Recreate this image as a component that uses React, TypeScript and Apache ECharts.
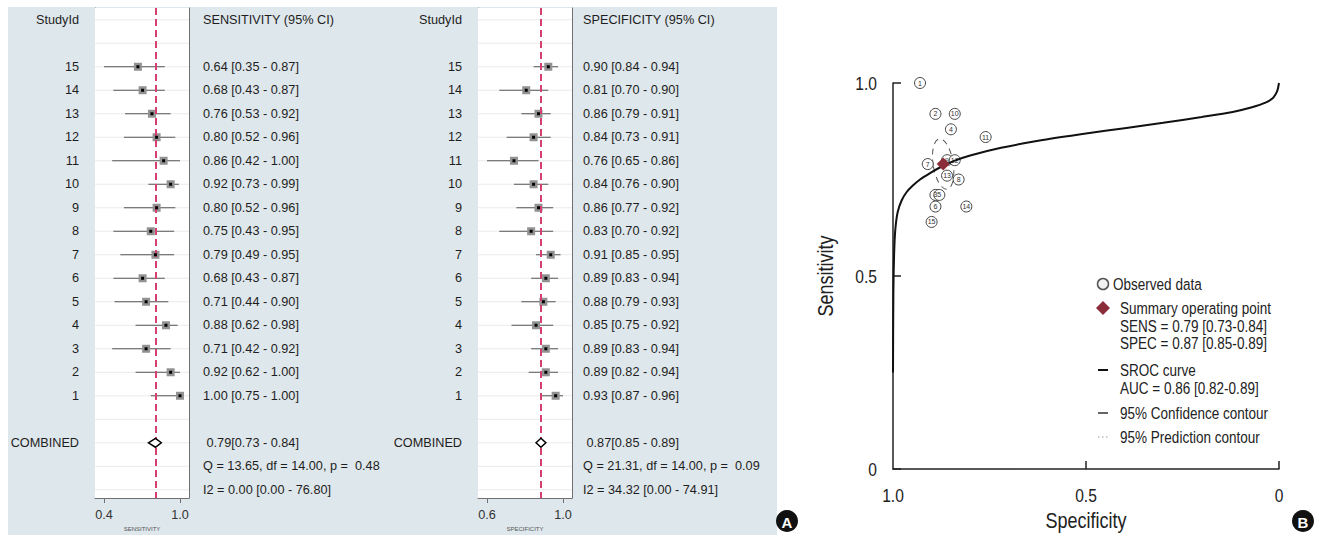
import React, { useEffect, useRef } from 'react';
import * as echarts from 'echarts';

// ---------------- data ----------------
const STUDY_IDS = [1, 2, 3, 4, 5, 6, 7, 8, 9, 10, 11, 12, 13, 14, 15];
const SENS = [1.0, 0.92, 0.71, 0.88, 0.71, 0.68, 0.79, 0.75, 0.8, 0.92, 0.86, 0.8, 0.76, 0.68, 0.64];
const SENS_LO = [0.75, 0.62, 0.42, 0.62, 0.44, 0.43, 0.49, 0.43, 0.52, 0.73, 0.42, 0.52, 0.53, 0.43, 0.35];
const SENS_HI = [1.0, 1.0, 0.92, 0.98, 0.9, 0.87, 0.95, 0.95, 0.96, 0.99, 1.0, 0.96, 0.92, 0.87, 0.87];
const SPEC = [0.93, 0.89, 0.89, 0.85, 0.88, 0.89, 0.91, 0.83, 0.86, 0.84, 0.76, 0.84, 0.86, 0.81, 0.9];
const SPEC_LO = [0.87, 0.82, 0.83, 0.75, 0.79, 0.83, 0.85, 0.7, 0.77, 0.76, 0.65, 0.73, 0.79, 0.7, 0.84];
const SPEC_HI = [0.96, 0.94, 0.94, 0.92, 0.93, 0.94, 0.95, 0.92, 0.92, 0.9, 0.86, 0.91, 0.91, 0.9, 0.94];

const SENS_POOLED = [0.79, 0.73, 0.84];
const SPEC_POOLED = [0.87, 0.85, 0.89];
const SENS_HET = [13.65, 14.0, 0.48, 0.0, 0.0, 76.8]; // Q, df, p, I2, lo, hi
const SPEC_HET = [21.31, 14.0, 0.09, 34.32, 0.0, 74.91];
const AUC = [0.86, 0.82, 0.89];

const SENS_TICKS = [0.35, 1.0];
const SENS_TICK_LABELS = ['0.4', '1.0'];
const SPEC_TICKS = [0.65, 0.96];
const SPEC_TICK_LABELS = ['0.6', '1.0'];

const ROC_TICKS = [0, 0.5, 1];
const ROC_TICK_LABELS = ['0', '0.5', '1.0'];

// SROC curve: [specificity, sensitivity]
const SROC_SPEC = [1.0, 0.999, 0.997, 0.994, 0.988, 0.978, 0.965, 0.95, 0.93, 0.905, 0.875, 0.845, 0.8, 0.72, 0.62, 0.5, 0.4, 0.3, 0.2, 0.12, 0.07, 0.035, 0.015, 0.005, 0.0];
const SROC_SENS = [0.25, 0.46, 0.56, 0.62, 0.665, 0.695, 0.717, 0.733, 0.75, 0.766, 0.783, 0.797, 0.812, 0.832, 0.851, 0.869, 0.883, 0.897, 0.912, 0.925, 0.937, 0.949, 0.962, 0.978, 1.0];

// 95% confidence contour (semi-axes in data units, tilt in degrees)
const CONF_CONTOUR = [0.026, 0.066, 9];

// ---------------- styling ----------------
const FONT = '"Liberation Sans", Arial, Helvetica, sans-serif';
const NARROW_SCALE = 0.82; // emulate a narrow face
const BG = '#dee7eb';
const TXT = '#1e1e1e';
const RED = '#d6406f';
const MAROON = '#8b2c3b';
const FOREST_FS = 12.7;

const NROWS = 21;
const rowOfStudy = (id: number) => 2 + (15 - id);
const f2 = (v: number) => v.toFixed(2);

function buildRows(header: string, v: number[], lo: number[], hi: number[], pooled: number[], het: number[]) {
  const left: string[] = new Array(NROWS).fill('');
  const right: string[] = new Array(NROWS).fill('');
  left[0] = 'StudyId';
  right[0] = header;
  STUDY_IDS.forEach((id, i) => {
    left[rowOfStudy(id)] = String(id);
    right[rowOfStudy(id)] = `${f2(v[i])} [${f2(lo[i])} - ${f2(hi[i])}]`;
  });
  left[18] = 'COMBINED';
  right[18] = ` ${f2(pooled[0])}[${f2(pooled[1])} - ${f2(pooled[2])}]`;
  right[19] = `Q = ${f2(het[0])}, df = ${f2(het[1])}, p =  ${f2(het[2])}`;
  right[20] = `I2 = ${f2(het[3])} [${f2(het[4])} - ${f2(het[5])}]`;
  return { left, right };
}

function forestPanel(
  g: number,
  grid: { left: number; width: number; rightMargin: number },
  xmin: number,
  xmax: number,
  ticks: number[],
  tickLabels: string[],
  axisName: string,
  header: string,
  v: number[],
  lo: number[],
  hi: number[],
  pooled: number[],
  het: number[]
) {
  const { left, right } = buildRows(header, v, lo, hi, pooled, het);
  const rowIdx = Array.from({ length: NROWS }, (_, i) => i);
  const yCommon = {
    type: 'value',
    gridIndex: g,
    inverse: true,
    min: -0.5,
    max: 20.35,
    axisLine: { show: true, onZero: false, lineStyle: { color: '#707070', width: 1 } },
    axisTick: { show: false },
    splitLine: { show: false },
  };
  const yAxes = [
    {
      ...yCommon,
      position: 'left',
      axisLabel: {
        customValues: rowIdx,
        formatter: (val: number) => left[Math.round(val)] ?? '',
        fontSize: FOREST_FS,
        fontFamily: FONT,
        color: TXT,
        margin: 16,
      },
    },
    {
      ...yCommon,
      position: 'right',
      axisLabel: {
        customValues: rowIdx,
        formatter: (val: number) => right[Math.round(val)] ?? '',
        fontSize: FOREST_FS,
        fontFamily: FONT,
        color: TXT,
        margin: grid.rightMargin,
        align: 'left',
      },
    },
  ];
  const xAxis = {
    type: 'value',
    gridIndex: g,
    min: xmin,
    max: xmax,
    axisLine: { show: true, onZero: false, lineStyle: { color: '#707070', width: 1 } },
    axisTick: { show: true, customValues: ticks, length: 5, lineStyle: { color: '#707070' } },
    axisLabel: {
      customValues: ticks,
      formatter: (val: number) => {
        const i = ticks.findIndex((t) => Math.abs(t - val) < 1e-9);
        return i >= 0 ? tickLabels[i] : '';
      },
      fontSize: FOREST_FS,
      fontFamily: FONT,
      color: '#333',
      margin: 10,
    },
    splitLine: { show: false },
    name: axisName,
    nameLocation: 'middle',
    nameGap: 24,
    nameTextStyle: { fontSize: 6, fontFamily: FONT, color: '#555' },
  };
  const gridOpt = {
    left: grid.left,
    top: 8,
    width: grid.width,
    height: 490,
    show: true,
    backgroundColor: '#ffffff',
    borderWidth: 0,
    z: 2,
  };
  const base = { xAxisIndex: g, yAxisIndex: 2 * g, silent: true };
  const series: any[] = [
    {
      ...base,
      type: 'custom',
      z: 2,
      data: rowIdx.map((r) => [xmin, r, xmax]),
      encode: { x: [0, 2], y: 1 },
      renderItem: (_p: any, api: any) => {
        const a = api.coord([api.value(0), api.value(1)]);
        const b = api.coord([api.value(2), api.value(1)]);
        return {
          type: 'line',
          shape: { x1: a[0], y1: a[1], x2: b[0], y2: b[1] },
          style: { stroke: '#ebebeb', lineWidth: 1 },
        };
      },
      markLine: {
        silent: true,
        symbol: ['none', 'none'],
        label: { show: false },
        lineStyle: { color: RED, type: [7, 4], width: 2 },
        data: [{ xAxis: pooled[0] }],
      },
    },
    {
      ...base,
      type: 'custom',
      z: 3,
      data: STUDY_IDS.map((id, i) => [lo[i], hi[i], rowOfStudy(id)]),
      encode: { x: [0, 1], y: 2 },
      renderItem: (_p: any, api: any) => {
        const a = api.coord([api.value(0), api.value(2)]);
        const b = api.coord([api.value(1), api.value(2)]);
        return {
          type: 'line',
          shape: { x1: a[0], y1: a[1], x2: b[0], y2: b[1] },
          style: { stroke: '#555', lineWidth: 1 },
        };
      },
    },
    {
      ...base,
      type: 'scatter',
      z: 4,
      symbol: 'rect',
      symbolSize: 8,
      itemStyle: { color: '#929292', opacity: 1 },
      data: STUDY_IDS.map((id, i) => [v[i], rowOfStudy(id)]),
    },
    {
      ...base,
      type: 'scatter',
      z: 5,
      symbol: 'rect',
      symbolSize: 3,
      itemStyle: { color: '#000', opacity: 1 },
      data: STUDY_IDS.map((id, i) => [v[i], rowOfStudy(id)]),
    },
    {
      ...base,
      type: 'custom',
      z: 5,
      data: [[pooled[0], pooled[1], pooled[2], 18]],
      encode: { x: [0, 1, 2], y: 3 },
      renderItem: (_p: any, api: any) => {
        const c = api.coord([api.value(0), api.value(3)]);
        const l = api.coord([api.value(1), api.value(3)]);
        const r = api.coord([api.value(2), api.value(3)]);
        const h = api.size([0, 0.19])[1];
        return {
          type: 'polygon',
          shape: { points: [[l[0], c[1]], [c[0], c[1] - h], [r[0], c[1]], [c[0], c[1] + h]] },
          style: { fill: '#fff', stroke: '#000', lineWidth: 1.5 },
        };
      },
    },
  ];
  return { grid: gridOpt, xAxis, yAxes, series };
}

const narrowText = (text: string, x: number, y: number, size: number, align: string, extra: any = {}) => ({
  type: 'text',
  x,
  y,
  scaleX: NARROW_SCALE,
  ...extra,
  style: { text, fontSize: size, fontFamily: FONT, fill: '#222', verticalAlign: 'middle', align },
});

export default function App() {
  const ref = useRef<HTMLDivElement>(null);
  useEffect(() => {
    if (!ref.current) return;
    const chart = echarts.init(ref.current, undefined, { renderer: 'svg' });

    const pA = forestPanel(0, { left: 95, width: 94, rightMargin: 14 }, 0.273, 1.077, SENS_TICKS, SENS_TICK_LABELS,
      'SENSITIVITY', 'SENSITIVITY (95% CI)', SENS, SENS_LO, SENS_HI, SENS_POOLED, SENS_HET);
    const pB = forestPanel(1, { left: 478, width: 94, rightMargin: 11 }, 0.6133, 0.9967, SPEC_TICKS, SPEC_TICK_LABELS,
      'SPECIFICITY', 'SPECIFICITY (95% CI)', SPEC, SPEC_LO, SPEC_HI, SPEC_POOLED, SPEC_HET);

    const rocAxisLine = { show: true, onZero: false, lineStyle: { color: '#222', width: 1.5 } };

    const legendX = 1120;
    const badge = (letter: string, cx: number, cy: number) => ({
      type: 'group',
      children: [
        { type: 'circle', shape: { cx, cy, r: 11 }, style: { fill: '#111' } },
        {
          type: 'text',
          x: cx,
          y: cy + 1,
          style: { text: letter, fontSize: 15, fontWeight: 'bold', fontFamily: FONT, fill: '#fff', align: 'center', verticalAlign: 'middle' },
        },
      ],
    });

    const baseGraphic: any[] = [
      { type: 'rect', z: -100, shape: { x: 8, y: 7, width: 769, height: 528 }, style: { fill: BG } },
      // legend of panel B
      { type: 'circle', shape: { cx: 1103, cy: 284, r: 5.5 }, style: { fill: '#f2f2f2', stroke: '#555', lineWidth: 1.5 } },
      narrowText('Observed data', 1113, 284, 16.5, 'left'),
      { type: 'polygon', shape: { points: [[1096, 308], [1103, 301], [1110, 308], [1103, 315]] }, style: { fill: MAROON } },
      narrowText('Summary operating point', legendX, 308, 16.5, 'left'),
      narrowText(`SENS = ${f2(SENS_POOLED[0])} [${f2(SENS_POOLED[1])}-${f2(SENS_POOLED[2])}]`, legendX, 326, 16.5, 'left'),
      narrowText(`SPEC = ${f2(SPEC_POOLED[0])} [${f2(SPEC_POOLED[1])}-${f2(SPEC_POOLED[2])}]`, legendX, 343, 16.5, 'left'),
      { type: 'line', shape: { x1: 1098, y1: 370, x2: 1108, y2: 370 }, style: { stroke: '#111', lineWidth: 2 } },
      narrowText('SROC curve', legendX, 370, 16.5, 'left'),
      narrowText(`AUC = ${f2(AUC[0])} [${f2(AUC[1])}-${f2(AUC[2])}]`, legendX, 388, 16.5, 'left'),
      { type: 'line', shape: { x1: 1098, y1: 413, x2: 1108, y2: 413 }, style: { stroke: '#666', lineWidth: 2 } },
      narrowText('95% Confidence contour', legendX, 413, 16.5, 'left'),
      { type: 'line', shape: { x1: 1098, y1: 437, x2: 1110, y2: 437 }, style: { stroke: '#999', lineWidth: 1, lineDash: [1.5, 2.5] } },
      narrowText('95% Prediction contour', legendX, 437, 16.5, 'left'),
      badge('A', 787, 521),
      badge('B', 1303, 521),
    ];

    const option: any = {
      animation: false,
      backgroundColor: '#ffffff',
      graphic: baseGraphic,
      grid: [
        pA.grid,
        pB.grid,
        { left: 893, top: 83, width: 386, height: 386, show: false },
      ],
      xAxis: [
        pA.xAxis,
        pB.xAxis,
        {
          type: 'value',
          gridIndex: 2,
          min: 0,
          max: 1,
          inverse: true,
          axisLine: rocAxisLine,
          axisTick: { show: true, inside: true, length: 8, customValues: [0.5, 0], lineStyle: { color: '#222', width: 1.5 } },
          axisLabel: { show: false },
          splitLine: { show: false },
        },
      ],
      yAxis: [
        ...pA.yAxes,
        ...pB.yAxes,
        {
          type: 'value',
          gridIndex: 2,
          min: 0,
          max: 1,
          axisLine: rocAxisLine,
          axisTick: { show: true, inside: true, length: 8, customValues: ROC_TICKS, lineStyle: { color: '#222', width: 1.5 } },
          axisLabel: { show: false },
          splitLine: { show: false },
        },
      ],
      series: [
        ...pA.series,
        ...pB.series,
        {
          type: 'custom',
          xAxisIndex: 2,
          yAxisIndex: 4,
          z: 4,
          silent: true,
          data: [[SPEC_POOLED[0], SENS_POOLED[0]]],
          renderItem: (_p: any, api: any) => {
            const c = api.coord([api.value(0), api.value(1)]);
            const rx = Math.abs(api.size([CONF_CONTOUR[0], 0])[0]);
            const ry = Math.abs(api.size([0, CONF_CONTOUR[1]])[1]);
            return {
              type: 'ellipse',
              x: c[0],
              y: c[1],
              rotation: (CONF_CONTOUR[2] * Math.PI) / 180,
              shape: { cx: 0, cy: 0, rx, ry },
              style: { fill: 'none', stroke: '#555', lineWidth: 1, lineDash: [6, 5] },
            };
          },
        },
        {
          type: 'scatter',
          xAxisIndex: 2,
          yAxisIndex: 4,
          z: 5,
          silent: true,
          symbol: 'circle',
          symbolSize: 11,
          itemStyle: { color: '#fdfdfd', borderColor: '#444', borderWidth: 1, opacity: 1 },
          label: {
            show: true,
            position: 'inside',
            formatter: (p: any) => String(p.data[2]),
            fontSize: 7,
            fontFamily: FONT,
            color: '#333',
          },
          data: STUDY_IDS.map((id, i) => [SPEC[i], SENS[i], id]),
        },
        {
          type: 'line',
          xAxisIndex: 2,
          yAxisIndex: 4,
          z: 6,
          silent: true,
          showSymbol: false,
          smooth: 0.3,
          lineStyle: { color: '#111', width: 2 },
          data: SROC_SPEC.map((s, i) => [s, SROC_SENS[i]]),
        },
        {
          type: 'scatter',
          xAxisIndex: 2,
          yAxisIndex: 4,
          z: 7,
          silent: true,
          symbol: 'diamond',
          symbolSize: 13,
          itemStyle: { color: MAROON, opacity: 1 },
          data: [[SPEC_POOLED[0], SENS_POOLED[0]]],
        },
      ],
    };
    chart.setOption(option);

    // ROC tick labels and axis titles (narrow face), placed through the axes' own scales
    const rocGraphic: any[] = [];
    ROC_TICKS.forEach((t, i) => {
      const py = chart.convertToPixel({ xAxisIndex: 2, yAxisIndex: 4 } as any, [1, t]) as number[];
      const px = chart.convertToPixel({ xAxisIndex: 2, yAxisIndex: 4 } as any, [t, 0]) as number[];
      rocGraphic.push(narrowText(ROC_TICK_LABELS[i], py[0] - 16, py[1], 19, 'right'));
      rocGraphic.push(narrowText(ROC_TICK_LABELS[i], px[0], px[1] + 26, 19, 'center'));
    });
    const mid = chart.convertToPixel({ xAxisIndex: 2, yAxisIndex: 4 } as any, [0.5, 0.5]) as number[];
    const origin = chart.convertToPixel({ xAxisIndex: 2, yAxisIndex: 4 } as any, [1, 0]) as number[];
    rocGraphic.push(narrowText('Specificity', mid[0], origin[1] + 51, 22, 'center'));
    rocGraphic.push(narrowText('Sensitivity', origin[0] - 68, mid[1], 22, 'center', { rotation: Math.PI / 2 }));

    chart.setOption({ graphic: [...baseGraphic, ...rocGraphic] });
    return () => chart.dispose();
  }, []);
  return <div ref={ref} style={{ position: 'fixed', left: 0, top: 0, width: 1325, height: 538 }} />;
}
